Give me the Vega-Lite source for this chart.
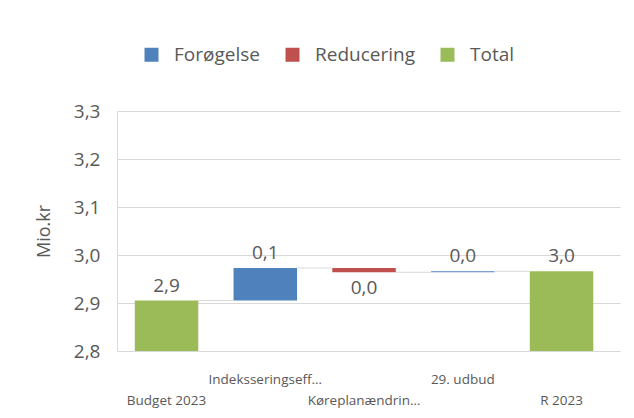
{
  "$schema": "https://vega.github.io/schema/vega-lite/v6.json",
  "width": 503,
  "height": 240,
  "autosize": "none",
  "padding": {"left": 117, "top": 111, "right": 14, "bottom": 67},
  "background": "white",
  "config": {
    "view": {"stroke": null},
    "font": "Open Sans",
    "locale": {"number": {"decimal": ",", "thousands": ".", "grouping": [3], "currency": ["", " kr."]}}
  },
  "data": {
    "values": [
      {"cat": "Budget 2023", "type": "Total", "value": 2.905, "lo": 0, "hi": 2.905, "level": 2.905, "next": "Indeksseringseff…"},
      {"cat": "Indeksseringseff…", "type": "Forøgelse", "value": 0.068, "lo": 2.905, "hi": 2.973, "level": 2.973, "next": "Køreplanændrin…"},
      {"cat": "Køreplanændrin…", "type": "Reducering", "value": 0.009, "lo": 2.964, "hi": 2.973, "level": 2.964, "next": "29. udbud"},
      {"cat": "29. udbud", "type": "Forøgelse", "value": 0.002, "lo": 2.964, "hi": 2.966, "level": 2.966, "next": "R 2023"},
      {"cat": "R 2023", "type": "Total", "value": 2.966, "lo": 0, "hi": 2.966, "level": 2.966, "next": null}
    ]
  },
  "layer": [
    {
      "mark": {"type": "bar", "clip": true},
      "encoding": {
        "x": {
          "field": "cat", "type": "nominal", "title": null,
          "scale": {"domain": ["Budget 2023", "Indeksseringseff…", "Køreplanændrin…", "29. udbud", "R 2023"], "paddingInner": 0.357, "paddingOuter": 0.2253, "align": 0.4},
          "axis": {
            "domain": false, "ticks": false, "labelAngle": 0, "labelFontSize": 13.5, "labelColor": "#595959",
            "labelPadding": 21, "labelLineHeight": 21, "labelBaseline": "top", "labelLimit": 200,
            "labelExpr": "(datum.label == 'Indeksseringseff…' || datum.label == '29. udbud') ? [datum.label] : ['', datum.label]"
          }
        },
        "y": {
          "field": "lo", "type": "quantitative", "title": "Mio.kr",
          "scale": {"domain": [2.8, 3.3], "nice": false, "zero": false},
          "axis": {
            "values": [2.8, 2.9, 3.0, 3.1, 3.2, 3.3], "format": ".1f",
            "domain": true, "domainColor": "#D9D9D9", "ticks": false,
            "gridColor": "#D9D9D9", "labelFontSize": 19, "labelColor": "#595959", "labelPadding": 17,
            "titleFontSize": 18, "titleFontWeight": "normal", "titleColor": "#595959", "titlePadding": 20
          }
        },
        "y2": {"field": "hi"},
        "color": {
          "field": "type", "type": "nominal",
          "scale": {"domain": ["Forøgelse", "Reducering", "Total"], "range": ["#4F81BD", "#C0504D", "#9BBB59"]},
          "legend": {
            "title": null, "orient": "none", "legendX": 25, "legendY": -66, "direction": "horizontal",
            "symbolType": "square", "symbolSize": 196, "symbolStrokeWidth": 0,
            "labelFontSize": 19, "labelColor": "#595959", "labelOffset": 13, "columnPadding": 23
          }
        }
      }
    },
    {
      "transform": [{"filter": "datum.next != null"}],
      "mark": {"type": "rule", "color": "#D9D9D9", "strokeWidth": 1},
      "encoding": {
        "x": {"field": "cat", "type": "nominal", "bandPosition": 1, "scale": {"domain": ["Budget 2023", "Indeksseringseff…", "Køreplanændrin…", "29. udbud", "R 2023"]}},
        "x2": {"field": "next", "bandPosition": 0},
        "y": {"field": "level", "type": "quantitative"}
      }
    },
    {
      "transform": [{"filter": "datum.type != 'Reducering'"}],
      "mark": {"type": "text", "baseline": "bottom", "dy": -5, "fontSize": 19, "color": "#595959"},
      "encoding": {
        "x": {"field": "cat", "type": "nominal", "scale": {"domain": ["Budget 2023", "Indeksseringseff…", "Køreplanændrin…", "29. udbud", "R 2023"]}},
        "y": {"field": "hi", "type": "quantitative"},
        "text": {"field": "value", "type": "quantitative", "format": ".1f"}
      }
    },
    {
      "transform": [{"filter": "datum.type == 'Reducering'"}],
      "mark": {"type": "text", "baseline": "top", "dy": 7, "fontSize": 19, "color": "#595959"},
      "encoding": {
        "x": {"field": "cat", "type": "nominal", "scale": {"domain": ["Budget 2023", "Indeksseringseff…", "Køreplanændrin…", "29. udbud", "R 2023"]}},
        "y": {"field": "lo", "type": "quantitative"},
        "text": {"field": "value", "type": "quantitative", "format": ".1f"}
      }
    }
  ]
}
